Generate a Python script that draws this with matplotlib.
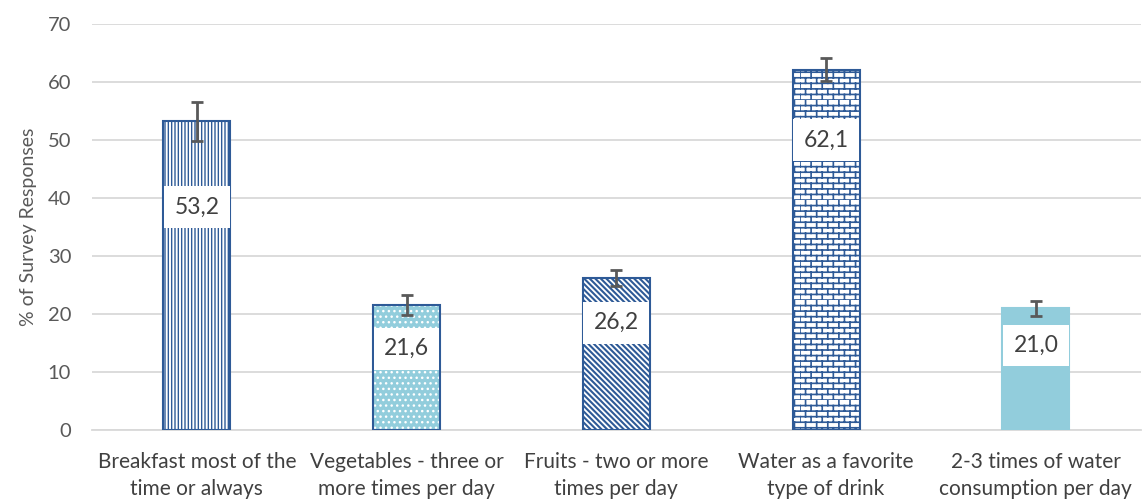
import matplotlib
matplotlib.use("Agg")
import matplotlib.pyplot as plt
import matplotlib.hatch as mhatch
from matplotlib.path import Path
import numpy as np

# ---- data ----
categories = ["Breakfast most of the\ntime or always",
              "Vegetables - three or\nmore times per day",
              "Fruits - two or more\ntimes per day",
              "Water as a favorite\ntype of drink",
              "2-3 times of water\nconsumption per day"]
values = [53.2, 21.6, 26.2, 62.1, 21.0]
errors = [3.3, 1.7, 1.4, 2.0, 1.3]
value_labels = ["53,2", "21,6", "26,2", "62,1", "21,0"]
label_y = [38.4, 14.0, 18.5, 50.0, 14.6]   # label placement (layout)
yticks = [0, 10, 20, 30, 40, 50, 60, 70]


# ---- custom brick hatch (replaces large-circle 'O') ----
class BrickHatch(mhatch.HatchPatternBase):
    def __init__(self, hatch, density):
        self.n = int(hatch.count('O') * density)
        if self.n % 2:
            self.n += 1
        self.cols = self.n // 2
        self.num_vertices = (2 * self.n + 2 * self.n * self.cols) if self.n else 0

    def set_vertices_and_codes(self, vertices, codes):
        n = self.n
        h = 1.0 / n
        w = 2.0 / n
        k = 0
        for i in range(n):
            y = i * h
            vertices[k] = (0.0, y); codes[k] = Path.MOVETO; k += 1
            vertices[k] = (1.0, y); codes[k] = Path.LINETO; k += 1
        for i in range(n):
            off = 0.0 if i % 2 == 0 else w / 2
            for j in range(self.cols):
                x = off + j * w
                vertices[k] = (x, i * h); codes[k] = Path.MOVETO; k += 1
                vertices[k] = (x, (i + 1) * h); codes[k] = Path.LINETO; k += 1


mhatch._hatch_types[:] = [t for t in mhatch._hatch_types
                          if t is not mhatch.LargeCircles] + [BrickHatch]

plt.rcParams['font.family'] = ['Lato', 'DejaVu Sans']

dark = "#2E5A97"
light = "#92CDDC"
grey_txt = "#595959"

fig = plt.figure(figsize=(11.43, 5.0), dpi=100)
ax = fig.add_axes([0.0805, 0.14, 0.9175, 0.812])

x = np.arange(len(categories))
w = 0.32

styles = [
    dict(face="white", hatch="|||||", hcol=dark, edge=dark, hlw=1.0),
    dict(face=light, hatch="...", hcol="white", edge=dark, hlw=1.0),
    dict(face="white", hatch="\\" * 6, hcol=dark, edge=dark, hlw=1.5),
    dict(face="white", hatch="OOO", hcol=dark, edge=dark, hlw=1.2),
    dict(face=light, hatch=None, hcol=light, edge=light, hlw=1.0),
]

for i, st in enumerate(styles):
    with plt.rc_context({'hatch.linewidth': st['hlw']}):
        ax.bar(x[i], values[i], width=w, color=st['face'], hatch=st['hatch'],
               edgecolor=st['hcol'], linewidth=0, zorder=2)
    ax.bar(x[i], values[i], width=w, fill=False, edgecolor=st['edge'],
           linewidth=1.5, zorder=3)

ax.errorbar(x, values, yerr=errors, fmt='none', ecolor="#595959",
            elinewidth=2.0, capsize=4.5, capthick=2.0, zorder=4)

for i in range(len(x)):
    ax.text(x[i], label_y[i], value_labels[i], ha='center', va='center',
            fontsize=16.5, color="#404040", zorder=5,
            bbox=dict(boxstyle='square,pad=0.45', facecolor='white',
                      edgecolor='none'))

ax.set_xlim(-0.5, len(x) - 0.5)
ax.set_ylim(0, 70)
ax.set_yticks(yticks)
ax.set_xticks(x)
ax.set_xticklabels(categories, fontsize=15, color="#404040", linespacing=1.4)
ax.tick_params(axis='y', length=0, pad=15, labelsize=14.5, labelcolor=grey_txt)
ax.tick_params(axis='x', length=0, pad=16)
ax.yaxis.grid(True, color="#D9D9D9", linewidth=1.3, zorder=0)
ax.set_axisbelow(True)
for s in ['top', 'right', 'left']:
    ax.spines[s].set_visible(False)
ax.spines['bottom'].set_color("#D9D9D9")
ax.spines['bottom'].set_linewidth(1.3)
ax.set_ylabel("% of Survey Responses", fontsize=14, color=grey_txt, labelpad=8)

fig.savefig("out.png", dpi=100)
